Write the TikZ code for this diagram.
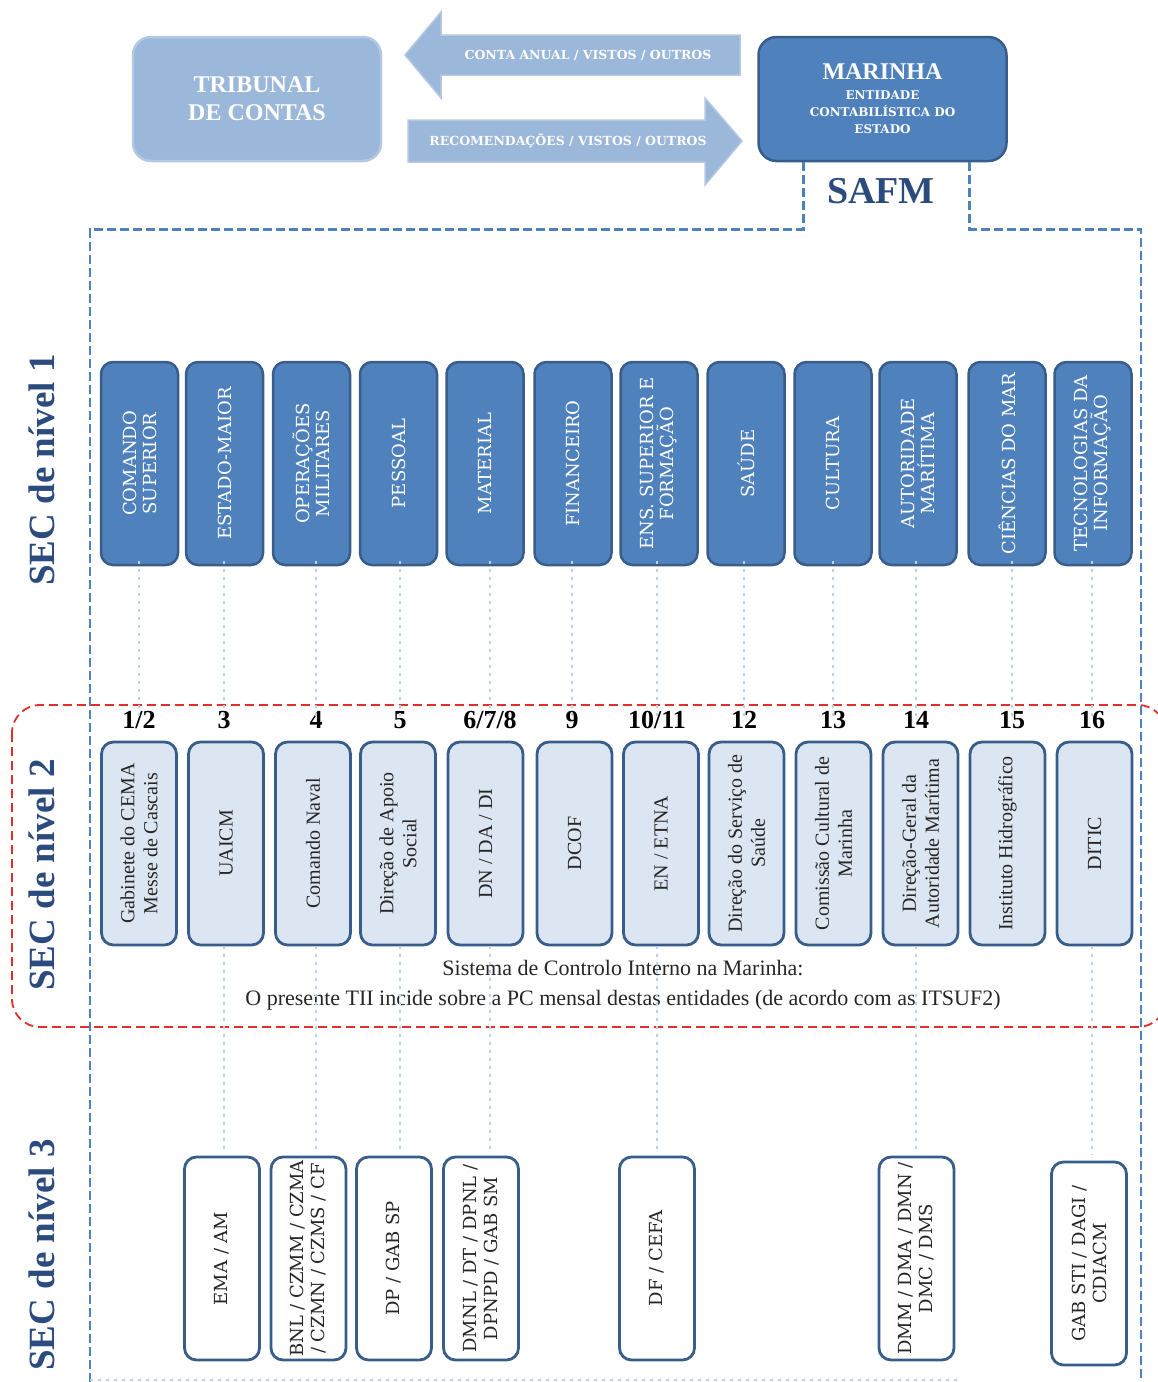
\documentclass[tikz,border=0pt]{standalone}
\usepackage{fontspec}
\setmainfont{Liberation Serif}
\newfontfamily\slabfont{DejaVu Serif}

\definecolor{azulmar}{HTML}{4F81BD}
\definecolor{azulborda}{HTML}{385D8A}
\definecolor{azulclaro}{HTML}{DCE6F2}
\definecolor{azultc}{HTML}{9BB7DA}
\definecolor{azultcborda}{HTML}{B4C8E2}
\definecolor{azulponto}{HTML}{BDD0EA}
\definecolor{azulnavy}{HTML}{2B4A7D}
\definecolor{vermelho}{HTML}{E0302C}

\newcommand{\fsz}[2]{\fontsize{#1}{#2}\selectfont}

\tikzset{
  caixatopo/.style={rounded corners=18, line width=2.5, minimum width=248, minimum height=124, align=center, inner sep=0},
  setatexto/.style={text=white, font=\slabfont\bfseries\fsz{12.5}{14}, inner sep=0},
  seta/.style={fill=azultc, draw=azultcborda, line width=1.5},
  nivelum/.style={rotate=90, fill=azulmar, draw=azulborda, line width=2.5, rounded corners=12, minimum width=203, minimum height=77, inner sep=0, align=center, text=white, font=\slabfont\fsz{18}{20}},
  niveldois/.style={rotate=90, fill=azulclaro, draw=azulborda, line width=2.8, rounded corners=12, minimum width=203, minimum height=75, inner sep=0, align=center, text=black!85, font=\fsz{20}{23}},
  niveltres/.style={rotate=90, fill=white, draw=azulborda, line width=2.8, rounded corners=12, minimum width=203, minimum height=75, inner sep=0, align=center, text=black!85, font=\slabfont\fsz{18}{21}},
  numero/.style={font=\bfseries\fsz{26}{28}, inner sep=0},
  nivel/.style={rotate=90, font=\bfseries\fsz{37}{40}, text=azulnavy, inner sep=0},
  ligacao/.style={azulponto, line width=2.5, dash pattern=on 3 off 5},
}

\begin{document}
\begin{tikzpicture}[x=1pt, y=-1pt]
  \useasboundingbox (0,0) rectangle (1158,1382);

  % Topo: Tribunal de Contas e Marinha
  \node[caixatopo, fill=azultc, draw=azultcborda, text=white, font=\bfseries\fsz{24}{28}] (tribunal) at (257,99) {TRIBUNAL\\DE CONTAS};
  \node[caixatopo, fill=azulmar, draw=azulborda, text=white, font=\slabfont\bfseries\fsz{12}{17}] (marinha) at (882.5,99)
    {\normalfont\bfseries\fsz{24}{26}MARINHA\\[3pt]\slabfont\bfseries\fsz{12}{17}ENTIDADE\\CONTABILÍSTICA DO\\ESTADO};

  % Setas entre as duas entidades
  \draw[seta] (740,35) -- (441,35) -- (441,12) -- (405,55) -- (441,98) -- (441,75) -- (740,75) -- cycle;
  \node[setatexto] (contaanual) at (588,55) {CONTA ANUAL / VISTOS / OUTROS};
  \draw[seta] (408,120) -- (705,120) -- (705,98) -- (742,141) -- (705,185) -- (705,162) -- (408,162) -- cycle;
  \node[setatexto] (recomend) at (568,141) {RECOMENDAÇÕES / VISTOS / OUTROS};

  % SAFM e moldura tracejada
  \node[font=\bfseries\fsz{38}{40}, text=azulnavy] (safm) at (881,191) {SAFM};
  \draw[azulmar, line width=2.8, dash pattern=on 9 off 4] ([xshift=46]marinha.south west) -- ++(0,67) -| (90,1390);
  \draw[azulmar, line width=2.8, dash pattern=on 9 off 4] ([xshift=-38]marinha.south east) -- ++(0,67) -| (1141,1390);

  % Moldura vermelha do nivel 2
  \draw[vermelho, line width=1.8, dash pattern=on 9 off 5, rounded corners=28] (12,705) rectangle (1166,1027);

  % Etiquetas dos niveis
  \node[nivel] (sec1) at (42,470) {SEC de nível 1};
  \node[nivel] (sec2) at (42,875) {SEC de nível 2};
  \node[nivel] (sec3) at (42,1255) {SEC de nível 3};

  % Nivel 1
  \node[nivelum] (a1) at (139.5,463.5) {COMANDO\\SUPERIOR};
  \node[nivelum] (a2) at (224.5,463.5) {ESTADO-MAIOR};
  \node[nivelum] (a3) at (311.5,463.5) {OPERAÇÕES\\MILITARES};
  \node[nivelum] (a4) at (398.5,463.5) {PESSOAL};
  \node[nivelum] (a5) at (485,463.5) {MATERIAL};
  \node[nivelum] (a6) at (573,463.5) {FINANCEIRO};
  \node[nivelum] (a7) at (659,463.5) {ENS. SUPERIOR E\\FORMAÇÃO};
  \node[nivelum] (a8) at (746,463.5) {SAÚDE};
  \node[nivelum] (a9) at (833,463.5) {CULTURA};
  \node[nivelum] (a10) at (918,463.5) {AUTORIDADE\\MARÍTIMA};
  \node[nivelum] (a11) at (1007,463.5) {CIÊNCIAS DO MAR};
  \node[nivelum] (a12) at (1093,463.5) {TECNOLOGIAS DA\\INFORMAÇÃO};

  % Numeros
  \node[numero] (n1) at (139,720) {1/2};
  \node[numero] (n2) at (224,720) {3};
  \node[numero] (n3) at (316,720) {4};
  \node[numero] (n4) at (400,720) {5};
  \node[numero] (n5) at (490,720) {6/7/8};
  \node[numero] (n6) at (572,720) {9};
  \node[numero] (n7) at (657,720) {10/11};
  \node[numero] (n8) at (744,720) {12};
  \node[numero] (n9) at (833,720) {13};
  \node[numero] (n10) at (916,720) {14};
  \node[numero] (n11) at (1012,720) {15};
  \node[numero] (n12) at (1092,720) {16};

  % Nivel 2
  \node[niveldois] (b1) at (139,843.5) {Gabinete do CEMA\\Messe de Cascais};
  \node[niveldois] (b2) at (226,843.5) {UAICM};
  \node[niveldois] (b3) at (313,843.5) {Comando Naval};
  \node[niveldois] (b4) at (398,843.5) {Direção de Apoio\\Social};
  \node[niveldois] (b5) at (485.5,843.5) {DN / DA / DI};
  \node[niveldois] (b6) at (574.5,843.5) {DCOF};
  \node[niveldois] (b7) at (661,843.5) {EN / ETNA};
  \node[niveldois] (b8) at (746.5,843.5) {Direção do Serviço de\\Saúde};
  \node[niveldois] (b9) at (833.5,843.5) {Comissão Cultural de\\Marinha};
  \node[niveldois] (b10) at (920.5,843.5) {Direção-Geral da\\Autoridade Marítima};
  \node[niveldois] (b11) at (1007.5,843.5) {Instituto Hidrográfico};
  \node[niveldois] (b12) at (1094.5,843.5) {DITIC};

  \node[font=\fsz{22}{30}, align=center, text=black!85] (scim) at (623,985)
    {Sistema de Controlo Interno na Marinha:\\O presente TII incide sobre a PC mensal destas entidades (de acordo com as ITSUF2)};

  % Nivel 3
  \node[niveltres] (c2) at (222,1258.5) {EMA / AM};
  \node[niveltres] (c3) at (308.5,1258.5) {BNL / CZMM / CZMA\\/ CZMN / CZMS / CF};
  \node[niveltres] (c4) at (394,1258.5) {DP / GAB SP};
  \node[niveltres] (c5) at (481,1258.5) {DMNL / DT / DPNL /\\DPNPD / GAB SM};
  \node[niveltres] (c7) at (657,1258.5) {DF / CEFA};
  \node[niveltres] (c10) at (916.5,1258.5) {DMM / DMA / DMN /\\DMC / DMS};
  \node[niveltres] (c12) at (1089,1263.5) {GAB STI / DAGI /\\CDIACM};

  % Ligacoes nivel 1 -> nivel 2
  \draw[ligacao] ([yshift=5]a1.west -| n1.north) -- ([yshift=-6]n1.north);
  \draw[ligacao] ([yshift=5]a2.west -| n2.north) -- ([yshift=-6]n2.north);
  \draw[ligacao] ([yshift=5]a3.west -| n3.north) -- ([yshift=-6]n3.north);
  \draw[ligacao] ([yshift=5]a4.west -| n4.north) -- ([yshift=-6]n4.north);
  \draw[ligacao] ([yshift=5]a5.west -| n5.north) -- ([yshift=-6]n5.north);
  \draw[ligacao] ([yshift=5]a6.west -| n6.north) -- ([yshift=-6]n6.north);
  \draw[ligacao] ([yshift=5]a7.west -| n7.north) -- ([yshift=-6]n7.north);
  \draw[ligacao] ([yshift=5]a8.west -| n8.north) -- ([yshift=-6]n8.north);
  \draw[ligacao] ([yshift=5]a9.west -| n9.north) -- ([yshift=-6]n9.north);
  \draw[ligacao] ([yshift=5]a10.west -| n10.north) -- ([yshift=-6]n10.north);
  \draw[ligacao] ([yshift=5]a11.west -| n11.north) -- ([yshift=-6]n11.north);
  \draw[ligacao] ([yshift=5]a12.west -| n12.north) -- ([yshift=-6]n12.north);

  % Ligacoes nivel 2 -> nivel 3
  \draw[ligacao] (b2.west -| n2) -- ([yshift=6]c2.east -| n2);
  \draw[ligacao] (b3.west -| n3) -- ([yshift=6]c3.east -| n3);
  \draw[ligacao] (b4.west -| n4) -- ([yshift=6]c4.east -| n4);
  \draw[ligacao] (b5.west -| n5) -- ([yshift=6]c5.east -| n5);
  \draw[ligacao] (b7.west -| n7) -- ([yshift=6]c7.east -| n7);
  \draw[ligacao] (b10.west -| n10) -- ([yshift=6]c10.east -| n10);
  \draw[ligacao] (b12.west -| n12) -- ([yshift=6]c12.east -| n12);
  \draw[ligacao] (90,1380) -- (960,1380);
\end{tikzpicture}
\end{document}
